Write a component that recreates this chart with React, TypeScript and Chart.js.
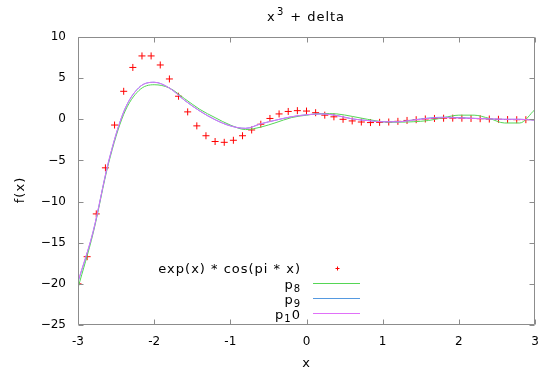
import React, { useEffect, useRef } from "react";
import { Chart, registerables } from "chart.js";

Chart.register(...registerables);

// Sampled points of exp(x) * cos(pi * x) (red crosses)
const X_POINTS = [
  -3.0, -2.88, -2.76, -2.64, -2.52, -2.4, -2.28, -2.16, -2.04, -1.92, -1.8,
  -1.68, -1.56, -1.44, -1.32, -1.2, -1.08, -0.96, -0.84, -0.72, -0.6, -0.48,
  -0.36, -0.24, -0.12, 0.0, 0.12, 0.24, 0.36, 0.48, 0.6, 0.72, 0.84, 0.96,
  1.08, 1.2, 1.32, 1.44, 1.56, 1.68, 1.8, 1.92, 2.04, 2.16, 2.28, 2.4, 2.52,
  2.64, 2.76, 2.88, 3.0,
];
const Y_POINTS = [
  -20.0, -16.7, -11.5, -5.9, -0.7, 3.4, 6.3, 7.7, 7.7, 6.6, 4.9, 2.8, 0.9,
  -0.8, -2.0, -2.7, -2.8, -2.55, -2.0, -1.3, -0.6, 0.1, 0.65, 0.95, 1.05, 1.0,
  0.8, 0.5, 0.3, 0.0, -0.2, -0.33, -0.4, -0.37, -0.33, -0.25, -0.14, -0.05,
  0.04, 0.1, 0.13, 0.14, 0.13, 0.1, 0.07, 0.03, 0.0, -0.03, -0.05, -0.05,
  -0.05,
];

// Curves p8, p9, p10
const X_CURVE = [
  -3.0, -2.8, -2.6, -2.4, -2.2, -2.0, -1.8, -1.6, -1.4, -1.2, -1.0, -0.8, -0.6,
  -0.4, -0.2, 0.0, 0.2, 0.4, 0.6, 0.8, 1.0, 1.2, 1.4, 1.6, 1.8, 2.0, 2.2, 2.4,
  2.6, 2.8, 3.0,
];
const P8 = [
  -20.5, -13.8, -5.4, 0.6, 3.5, 4.2, 3.8, 2.5, 1.2, 0.2, -0.7, -1.25, -0.95,
  -0.4, 0.2, 0.5, 0.7, 0.65, 0.35, 0.0, -0.3, -0.35, -0.3, -0.15, 0.2, 0.5,
  0.5, 0.1, -0.45, -0.45, 1.2,
];
const P9 = [
  -19.8, -13.6, -5.2, 0.9, 3.85, 4.5, 3.8, 2.3, 1.0, -0.05, -0.8, -1.1, -0.55,
  -0.1, 0.3, 0.55, 0.65, 0.45, 0.05, -0.15, -0.3, -0.3, -0.08, 0.15, 0.25,
  0.2, 0.12, 0.05, 0.0, 0.0, -0.1,
];
const P10 = [
  -19.7, -13.6, -5.2, 0.9, 3.85, 4.5, 3.8, 2.3, 1.0, -0.05, -0.8, -1.1, -0.55,
  -0.1, 0.3, 0.55, 0.65, 0.45, 0.05, -0.15, -0.3, -0.3, -0.1, 0.1, 0.2, 0.15,
  0.1, 0.05, 0.0, 0.0, -0.1,
];

const X_TICKS = [-3, -2, -1, 0, 1, 2, 3];
const Y_TICKS = [-25, -20, -15, -10, -5, 0, 5, 10];

const TITLE_BASE = "x";
const TITLE_SUP = "3";
const TITLE_REST = " + delta";
const X_LABEL = "x";
const Y_LABEL = "f(x)";
const LEGEND_POINTS = "exp(x) * cos(pi * x)";
// [base, subscript, trailing] for p_8, p_9, p_1 0
const LEGEND_LINES: [string, string, string][] = [
  ["p", "8", ""],
  ["p", "9", ""],
  ["p", "1", "0"],
];

const RED = "#ff0000";
const GREEN = "#55d655";
const BLUE = "#5599e0";
const MAGENTA = "#e070f8";
const AXIS = "#8c8c8c";
const FONT = '"DejaVu Sans", sans-serif';

const pairs = (xs: number[], ys: number[]) =>
  xs.map((x, i) => ({ x, y: ys[i] }));

const decorPlugin = {
  id: "decor",
  afterDraw(chart: any) {
    const ctx = chart.ctx as CanvasRenderingContext2D & { letterSpacing?: string };
    const { left, right, top, bottom } = chart.chartArea;
    const xs = chart.scales.x;
    const ys = chart.scales.y;
    ctx.save();
    // border
    ctx.strokeStyle = AXIS;
    ctx.lineWidth = 1;
    const L = Math.round(left) + 0.5;
    const R = Math.round(right) - 0.5;
    const T = Math.round(top) + 0.5;
    const B = Math.round(bottom) - 0.5;
    ctx.beginPath();
    ctx.rect(L, T, R - L, B - T);
    ctx.stroke();
    // ticks (inward, mirrored)
    const tl = 5;
    ctx.beginPath();
    X_TICKS.forEach((v) => {
      const p = Math.round(xs.getPixelForValue(v)) + 0.5;
      ctx.moveTo(p, B);
      ctx.lineTo(p, B - tl);
      ctx.moveTo(p, T);
      ctx.lineTo(p, T + tl);
    });
    Y_TICKS.forEach((v) => {
      const p = Math.round(ys.getPixelForValue(v)) + 0.5;
      ctx.moveTo(L, p);
      ctx.lineTo(L + tl, p);
      ctx.moveTo(R, p);
      ctx.lineTo(R - tl, p);
    });
    ctx.stroke();

    // title: x^3 + delta
    ctx.fillStyle = "#000";
    ctx.letterSpacing = "1px";
    ctx.textBaseline = "alphabetic";
    ctx.textAlign = "left";
    ctx.font = `13px ${FONT}`;
    ctx.fillText(TITLE_BASE, 267, 21);
    ctx.font = `10px ${FONT}`;
    ctx.fillText(TITLE_SUP, 277, 15);
    ctx.font = `13px ${FONT}`;
    ctx.fillText(TITLE_REST, 285, 21);

    // axis titles
    ctx.textAlign = "center";
    ctx.textBaseline = "middle";
    ctx.fillText(X_LABEL, (left + right) / 2, 364);
    ctx.save();
    ctx.translate(21, 190);
    ctx.rotate(-Math.PI / 2);
    ctx.fillText(Y_LABEL, 0, 0);
    ctx.restore();

    // legend
    const rowsY = [268, 283, 298, 313];
    const textRight = 301;
    const sx0 = 313;
    const sx1 = 360;
    ctx.textAlign = "right";
    ctx.textBaseline = "middle";
    ctx.fillText(LEGEND_POINTS, textRight, rowsY[0] + 2);
    // enhanced-text style subscripts, right aligned
    ctx.textBaseline = "alphabetic";
    ctx.textAlign = "left";
    LEGEND_LINES.forEach(([base, sub, trail], i) => {
      const baseY = rowsY[i + 1] + 6;
      ctx.font = `13px ${FONT}`;
      const wBase = ctx.measureText(base).width;
      const wTrail = trail ? ctx.measureText(trail).width : 0;
      ctx.font = `10px ${FONT}`;
      const wSub = ctx.measureText(sub).width;
      let x = textRight - (wBase + wSub + wTrail);
      ctx.font = `13px ${FONT}`;
      ctx.fillText(base, x, baseY);
      x += wBase;
      ctx.font = `10px ${FONT}`;
      ctx.fillText(sub, x, baseY + 3);
      x += wSub;
      if (trail) {
        ctx.font = `13px ${FONT}`;
        ctx.fillText(trail, x, baseY);
      }
    });
    ctx.letterSpacing = "0px";
    // sample marks
    ctx.strokeStyle = RED;
    ctx.lineWidth = 1;
    ctx.beginPath();
    const cx = 337.5;
    const cy = rowsY[0] + 0.5;
    ctx.moveTo(cx - 2, cy);
    ctx.lineTo(cx + 2, cy);
    ctx.moveTo(cx, cy - 2);
    ctx.lineTo(cx, cy + 2);
    ctx.stroke();
    [GREEN, BLUE, MAGENTA].forEach((c, i) => {
      ctx.strokeStyle = c;
      ctx.beginPath();
      ctx.moveTo(sx0, rowsY[i + 1] + 0.5);
      ctx.lineTo(sx1, rowsY[i + 1] + 0.5);
      ctx.stroke();
    });
    ctx.restore();
  },
};

export default function App() {
  const ref = useRef<HTMLCanvasElement | null>(null);

  useEffect(() => {
    document.body.style.margin = "0";
    const canvas = ref.current;
    if (!canvas) return;
    const lineDs = (label: string, ys: number[], color: string, order: number) => ({
      label,
      data: pairs(X_CURVE, ys),
      showLine: true,
      borderColor: color,
      backgroundColor: color,
      borderWidth: 1,
      pointRadius: 0,
      cubicInterpolationMode: "monotone" as const,
      order,
    });
    const chart = new Chart(canvas, {
      type: "scatter",
      data: {
        datasets: [
          lineDs("p10", P10, MAGENTA, 1),
          lineDs("p9", P9, BLUE, 2),
          lineDs("p8", P8, GREEN, 3),
          {
            label: LEGEND_POINTS,
            data: pairs(X_POINTS, Y_POINTS),
            showLine: false,
            pointStyle: "cross",
            pointRadius: 3.5,
            borderColor: RED,
            backgroundColor: RED,
            borderWidth: 1,
            order: 4,
          } as any,
        ],
      },
      options: {
        responsive: false,
        animation: false,
        devicePixelRatio: 1,
        layout: { padding: { top: 37, left: 0, right: 1, bottom: 0 } },
        plugins: {
          legend: { display: false },
          title: { display: false },
          tooltip: { enabled: false },
        },
        scales: {
          x: {
            type: "linear",
            min: -3,
            max: 3,
            grid: { display: false, drawTicks: false },
            border: { display: false },
            ticks: {
              stepSize: 1,
              padding: 10,
              color: "#000",
              font: { family: FONT, size: 12 },
              maxRotation: 0,
            },
            afterFit: (s: any) => {
              s.height = 46;
              s.paddingLeft = 0;
              s.paddingRight = 0;
            },
          },
          y: {
            type: "linear",
            min: -25,
            max: 10,
            grid: { display: false, drawTicks: false },
            border: { display: false },
            ticks: {
              stepSize: 5,
              padding: 12,
              color: "#000",
              font: { family: FONT, size: 12 },
              callback: (v: any) => String(v).replace("-", "\u2212"),
            },
            afterFit: (s: any) => {
              s.width = 78;
              s.paddingTop = 0;
              s.paddingBottom = 0;
            },
          },
        },
      },
      plugins: [decorPlugin],
    });
    return () => chart.destroy();
  }, []);

  return <canvas ref={ref} width={540} height={371} style={{ display: "block" }} />;
}
